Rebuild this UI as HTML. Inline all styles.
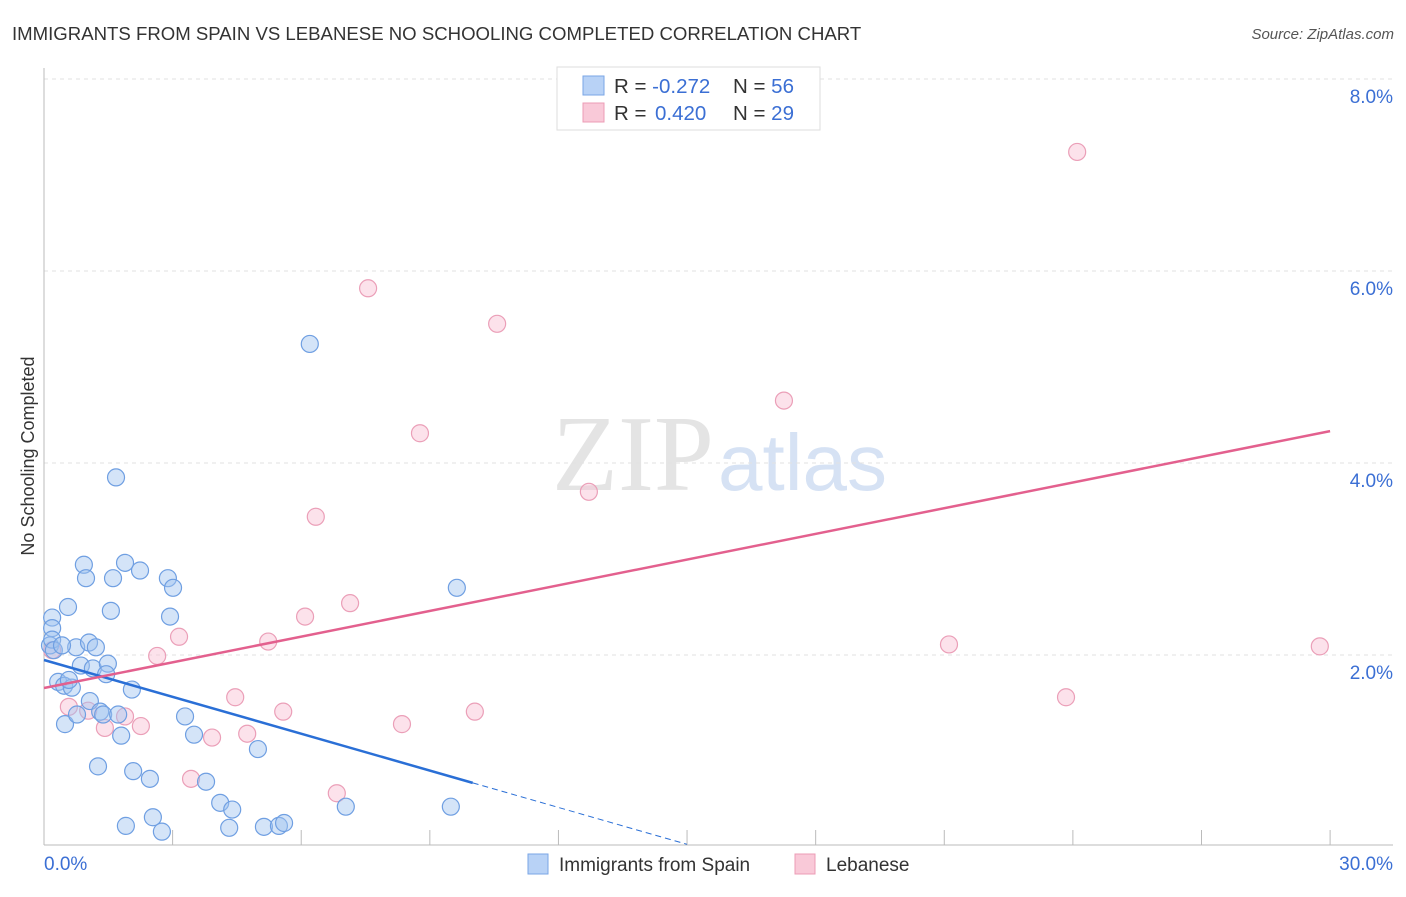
<!DOCTYPE html>
<html><head><meta charset="utf-8"><style>
body{margin:0;background:#fff;font-family:"Liberation Sans",sans-serif}
</style></head><body>
<svg width="1406" height="892" viewBox="0 0 1406 892" xmlns="http://www.w3.org/2000/svg">
<text x="12" y="40" font-size="18.6" fill="#333">IMMIGRANTS FROM SPAIN VS LEBANESE NO SCHOOLING COMPLETED CORRELATION CHART</text>
<text x="1394" y="39" font-size="15" fill="#555" font-style="italic" text-anchor="end">Source: ZipAtlas.com</text>
<text x="714" y="490" font-size="108" fill="#e4e4e4" text-anchor="end" font-family="Liberation Serif">ZIP</text>
<text x="718" y="490" font-size="80" fill="#d6e2f4">atlas</text>
<g id="grid"></g>
<g id="axes"></g>
<g id="marks"></g>
<text transform="translate(34,456) rotate(-90)" font-size="18" fill="#333" text-anchor="middle">No Schooling Completed</text>
<g>
<rect x="557" y="67" width="263" height="63" fill="#fff" stroke="#ddd"/>
<rect x="583" y="76" width="21" height="19" fill="#b8d2f6" stroke="#7aa6e6"/>
<rect x="583" y="103" width="21" height="19" fill="#f9c9d8" stroke="#ec9cb6"/>
<text x="614" y="93" font-size="20.5" fill="#333">R = <tspan fill="#3b6fd4">-0.272</tspan><tspan x="733">N = </tspan><tspan fill="#3b6fd4">56</tspan></text>
<text x="614" y="120" font-size="20.5" fill="#333">R = <tspan x="655" fill="#3b6fd4">0.420</tspan><tspan x="733">N = </tspan><tspan fill="#3b6fd4">29</tspan></text>
</g>
<g>
<rect x="528" y="854" width="20" height="20" fill="#b8d2f6" stroke="#7aa6e6"/>
<text x="559" y="871" font-size="19" fill="#333">Immigrants from Spain</text>
<rect x="795" y="854" width="20" height="20" fill="#f9c9d8" stroke="#ec9cb6"/>
<text x="826" y="871" font-size="19" fill="#333">Lebanese</text>
</g>
</svg>
<script>
const xTickLabels=["0.0%","30.0%"];
const yTicks=[2,4,6,8];
const yTickLabels=["2.0%","4.0%","6.0%","8.0%"];
const spainX=[0.19,0.19,0.14,0.19,0.56,0.93,0.98,1.61,1.89,2.24,2.89,3.01,1.68,1.56,2.94,0.75,1.05,1.21,0.33,0.47,0.65,0.58,0.86,1.14,1.49,1.45,1.07,0.49,0.77,1.31,1.38,1.73,1.80,2.05,3.29,3.50,4.99,1.26,2.08,2.47,3.78,4.11,4.39,1.91,2.54,2.75,4.32,5.13,5.48,5.60,7.04,9.49,6.20,9.63,0.23,0.42];
const spainY=[2.39,2.28,2.10,2.16,2.50,2.94,2.80,2.80,2.96,2.88,2.80,2.70,3.85,2.46,2.40,2.08,2.13,2.08,1.72,1.68,1.66,1.74,1.89,1.86,1.91,1.80,1.52,1.28,1.38,1.41,1.38,1.38,1.16,1.64,1.36,1.17,1.02,0.84,0.79,0.71,0.68,0.46,0.39,0.22,0.31,0.16,0.20,0.21,0.22,0.25,0.42,0.42,5.24,2.70,2.05,2.10];
const lebX=[0.19,0.58,1.03,1.42,1.89,2.26,2.64,3.15,3.43,3.92,4.46,4.74,5.23,5.58,6.09,6.34,6.83,7.14,7.56,8.35,8.77,10.05,10.57,12.71,17.26,21.11,23.84,24.10,29.76];
const lebY=[2.05,1.46,1.42,1.24,1.36,1.26,1.99,2.19,0.71,1.14,1.56,1.18,2.14,1.41,2.40,3.44,0.56,2.54,5.82,1.28,4.31,1.41,5.45,3.70,4.65,2.11,1.56,7.24,2.09];
const spainTrend=[1.948,-0.128];
const lebTrend=[1.656,0.0892];
const X=v=>44+v*42.87, Y=v=>847-v*96;
const NS="http://www.w3.org/2000/svg";
function mk(p,t,a){const e=document.createElementNS(NS,t);for(const k in a)e.setAttribute(k,a[k]);p.appendChild(e);return e;}
const grid=document.getElementById('grid'),axes=document.getElementById('axes'),marks=document.getElementById('marks');
yTicks.forEach((t,i)=>{
 const l=mk(grid,'line',{x1:44,x2:1393,y1:Y(t),y2:Y(t),stroke:'#e2e2e2','stroke-dasharray':'4,4'});
 
 
 const tx=mk(axes,'text',{x:1393,y:Y(t)+24,'font-size':19,fill:'#3b6fd4','text-anchor':'end'});
 tx.textContent=yTickLabels[i];
 
 
});
const al=mk(axes,'line',{x1:44,x2:44,y1:68,y2:845,stroke:'#bbb'});


const bl=mk(axes,'line',{x1:44,x2:1393,y1:845,y2:845,stroke:'#bbb'});


for(let i=1;i<=10;i++){
 const t=mk(axes,'line',{x1:X(i*3),x2:X(i*3),y1:830,y2:845,stroke:'#bbb'});
 
 
}
[[0,'start',44],[30,'end',1393]].forEach((d,i)=>{
 const t=mk(axes,'text',{x:d[2],y:870,'font-size':19,fill:'#3b6fd4','text-anchor':d[1]});
 t.textContent=xTickLabels[i];
 
 
});
lebX.forEach((x,i)=>{
 const c=mk(marks,'circle',{cx:X(x),cy:Y(lebY[i]),r:8.5,fill:'rgba(248,190,210,0.45)',stroke:'#eb9fb8','stroke-width':1.2});
 
 
});
spainX.forEach((x,i)=>{
 const c=mk(marks,'circle',{cx:X(x),cy:Y(spainY[i]),r:8.5,fill:'rgba(160,195,240,0.45)',stroke:'#6f9fe2','stroke-width':1.2});
 
 
});
const f=(tr,x)=>tr[0]+tr[1]*x;
const s1=mk(marks,'line',{x1:X(0),y1:Y(f(spainTrend,0)),x2:X(10),y2:Y(f(spainTrend,10)),stroke:'#2a6fd6','stroke-width':2.5});


const s2=mk(marks,'line',{x1:X(10),y1:Y(f(spainTrend,10)),x2:X(15),y2:Y(f(spainTrend,15)),stroke:'#2a6fd6','stroke-width':1,'stroke-dasharray':'6,4'});


const l2=mk(marks,'line',{x1:X(0),y1:Y(f(lebTrend,0)),x2:X(30),y2:Y(f(lebTrend,30)),stroke:'#e3608e','stroke-width':2.5});


</script>
</body></html>
